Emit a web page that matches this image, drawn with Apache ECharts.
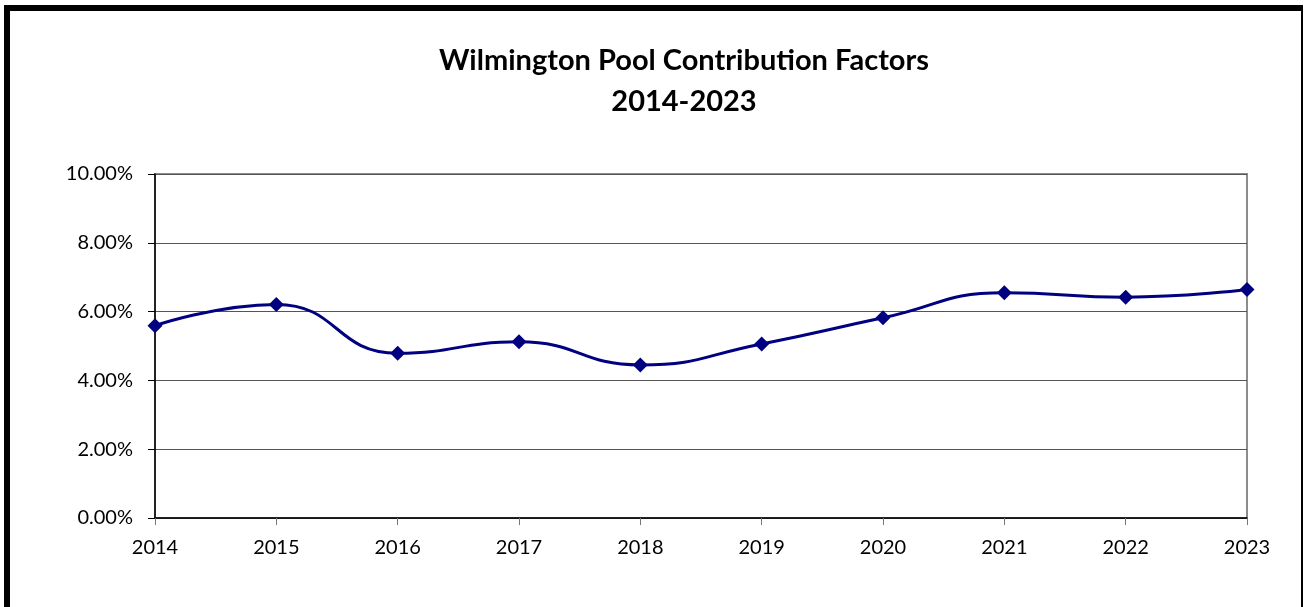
<!DOCTYPE html>
<html>
<head>
<meta charset="utf-8">
<script src="https://cdn.jsdelivr.net/npm/echarts@6/dist/echarts.min.js"></script>
<style>
  html, body { margin: 0; padding: 0; background: #fff; }
  #frame {
    position: absolute; left: 4px; top: 5px; width: 1299px; height: 610px;
    border-top: 6px solid #000; border-left: 6px solid #000; border-right: 2px solid #000;
    box-sizing: border-box;
  }
  #chart { position: absolute; left: 0; top: 0; width: 1307px; height: 607px; }
</style>
</head>
<body>
<div id="frame"></div>
<div id="chart"></div>
<script>
const years = ['2014', '2015', '2016', '2017', '2018', '2019', '2020', '2021', '2022', '2023']
const factors = [5.59, 6.21, 4.79, 5.12, 4.45, 5.06, 5.82, 6.55, 6.42, 6.64]
const titleLines = ['Wilmington Pool Contribution Factors', '2014-2023']

const labelFont = 'Lato, "Open Sans", sans-serif'

const chart = echarts.init(document.getElementById('chart'))
chart.setOption({
  animation: false,
  title: {
    text: titleLines.join('\n'),
    left: 679,
    textAlign: 'center',
    top: 35,
    textStyle: {
      fontFamily: labelFont,
      fontWeight: 'bold',
      fontSize: 29,
      lineHeight: 41,
      color: '#000'
    }
  },
  grid: { left: 155, right: 60, top: 174, bottom: 89, show: true, borderColor: '#8c8c8c', borderWidth: 2 },
  xAxis: {
    type: 'category',
    data: years,
    boundaryGap: false,
    axisLine: { lineStyle: { color: '#000', width: 1.5 } },
    axisTick: { alignWithLabel: true, length: 7, lineStyle: { color: '#777' } },
    axisLabel: { color: '#000', fontFamily: labelFont, fontSize: 20, margin: 20 }
  },
  yAxis: {
    type: 'value',
    min: 0,
    max: 10,
    interval: 2,
    axisLine: { show: true, lineStyle: { color: '#000', width: 1.5 } },
    axisTick: { show: true, length: 7, lineStyle: { color: '#000' } },
    axisLabel: {
      color: '#000', fontFamily: labelFont, fontSize: 20, margin: 22,
      formatter: (v) => v.toFixed(2) + '%'
    },
    splitLine: { lineStyle: { color: '#555', width: 1.2 } }
  },
  series: [
    {
      type: 'line',
      data: factors,
      smooth: 0.5,
      symbol: 'diamond',
      symbolSize: 15,
      itemStyle: { color: '#000080' },
      lineStyle: { color: '#000080', width: 3 }
    }
  ]
})
</script>
</body>
</html>
